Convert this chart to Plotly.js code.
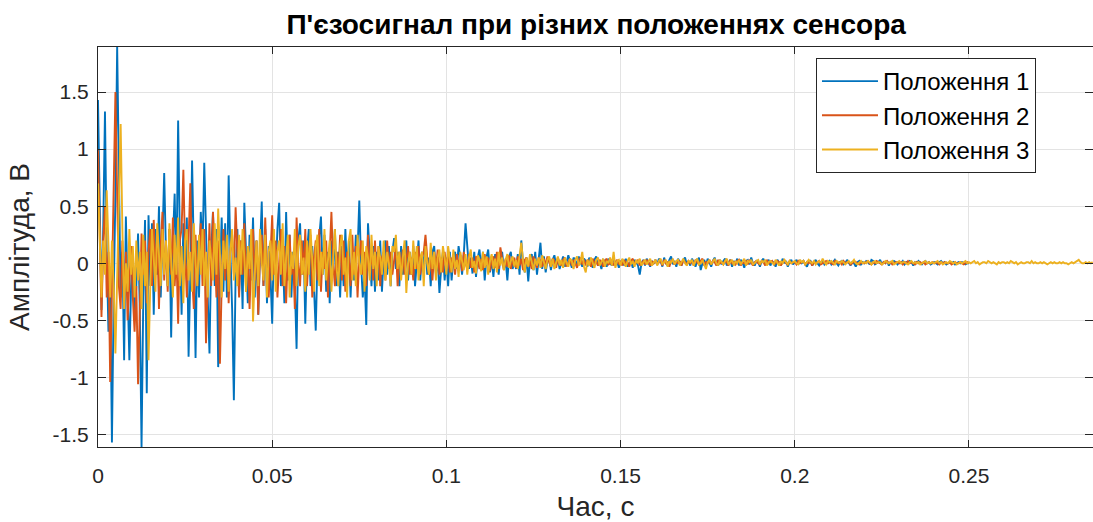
<!DOCTYPE html>
<html>
<head>
<meta charset="utf-8">
<script src="https://cdn.plot.ly/plotly-3.0.1.min.js"></script>
<style>
  html, body { margin: 0; padding: 0; background: #fff; }
  #chart { width: 1093px; height: 522px; }
</style>
</head>
<body>
<div id="chart"></div>
<script>
// Sampling step of the recorded piezo signals, s
const dt = 0.0005;

// Sensor position 1 (amplitude, V)
const position1 = [
  1.43,0.4,-0.41,0.3,1.33,0.1,-0.6,-0.2,-1.57,-0.3,0.6,1.9,0.9,-0.3,0.1,-0.85,0.41,-0.3,-0.85,-0.2,
  0.1,-0.5,-0.2,0.26,-0.4,-1.61,-0.3,0.38,-1.14,0.42,-0.2,0.35,-0.45,0.3,-0.1,0.5,-0.3,0.2,0.79,0.1,
  -0.2,0.3,-0.65,0.2,0.61,-0.1,1.25,0.2,-0.45,0.35,-0.1,0.4,-0.82,-0.1,0.9,0.1,-0.83,0.2,-0.3,0.45,
  0.1,0.88,0.2,-0.3,-0.79,0.1,0.45,-0.2,0.3,-0.91,-0.1,0.4,-0.25,0.35,-0.3,0.77,0.1,-0.4,-1.2,-0.1,
  0.3,-0.25,0.2,-0.4,0.53,0.1,-0.35,0.25,-0.15,0.4,-0.3,0.2,-0.45,0.1,0.54,-0.2,0.3,-0.35,0.15,-0.1,
  -0.53,0.2,-0.1,0.3,0.53,-0.2,0.1,-0.35,0.45,-0.15,0.25,-0.3,0.1,-0.2,-0.75,0.2,0.35,-0.1,0.2,-0.53,
  0.1,0.3,-0.2,0.15,-0.3,-0.59,0.05,0.2,0.41,-0.1,0.25,-0.25,0.1,-0.35,0.2,-0.1,0.3,-0.2,0.1,-0.3,
  0.15,-0.2,0.3,-0.1,0.2,-0.3,0.1,-0.15,0.25,0.1,0.55,0.0,-0.3,-0.1,-0.54,0.35,0.1,-0.2,0.15,-0.25,
  0.1,-0.15,0.2,-0.25,0.05,0.2,-0.1,0.15,-0.2,0.1,0.22,-0.05,0.1,-0.2,0.15,-0.1,0.05,0.2,-0.15,0.1,
  -0.1,0.15,-0.2,0.05,0.2,-0.15,0.1,-0.05,0.18,-0.1,0.05,-0.2,0.1,0.15,-0.1,0.05,-0.26,-0.05,0.1,-0.15,
  0.05,-0.2,0.1,-0.15,0.05,0.1,-0.05,0.15,0.05,-0.1,0.08,0.35,0.1,-0.05,0.05,-0.09,0.1,-0.12,0.05,0.12,
  -0.05,0.1,-0.15,0.05,0.12,-0.08,0.03,-0.12,0.08,0.02,-0.1,0.05,0.1,-0.05,0.03,-0.15,0.06,0.1,-0.05,0.02,
  -0.05,0.08,-0.1,0.2,0.0,-0.08,0.05,-0.16,0.04,0.08,-0.06,0.1,-0.1,0.03,0.18,-0.05,0.06,-0.08,0.02,0.05,
  -0.06,0.03,0.07,-0.02,0.04,-0.05,0.02,0.06,-0.03,0.01,0.07,0.02,-0.04,0.05,0.03,-0.02,0.06,0.01,-0.03,0.04,
  0.02,-0.03,0.05,0.01,-0.04,0.03,0.06,-0.02,0.01,-0.05,0.03,0.02,-0.03,0.04,0.0,-0.02,0.05,-0.01,0.02,-0.04,
  0.01,0.03,-0.02,0.04,-0.03,0.0,0.02,-0.04,0.03,0.01,-0.02,-0.1,0.0,0.03,-0.02,0.04,0.01,-0.03,0.02,0.0,
  0.03,-0.01,0.04,0.02,-0.03,0.05,0.0,-0.02,0.03,0.06,-0.01,0.02,-0.03,0.04,0.01,-0.02,0.03,0.05,-0.01,0.02,
  -0.02,0.04,0.01,-0.03,0.02,0.05,-0.06,0.0,0.03,-0.02,0.04,0.01,-0.03,0.02,0.05,0.0,-0.02,0.03,-0.01,0.02,
  0.04,-0.02,0.01,0.03,-0.03,0.02,0.0,0.04,-0.02,0.03,0.01,-0.04,0.02,0.03,-0.01,0.05,0.0,-0.02,0.02,0.01,
  -0.03,0.02,0.04,-0.01,0.01,0.03,-0.02,0.02,0.0,-0.03,0.03,0.01,-0.02,0.04,0.0,0.02,-0.03,0.01,0.03,-0.01,
  0.01,0.03,-0.01,0.02,0.0,0.02,-0.01,-0.03,0.01,0.02,-0.02,0.01,0.03,0.0,-0.02,0.01,0.02,-0.01,0.01,0.0,
  0.02,-0.01,0.01,0.03,0.0,-0.02,0.01,0.02,-0.01,0.0,0.03,0.01,-0.02,0.01,0.0,-0.03,0.01,0.02,-0.01,0.01,
  0.0,0.02,0.01,-0.01,0.03,0.02,-0.01,0.0,0.01,0.03,-0.01,0.01,0.0,0.02,-0.02,0.01,0.0,0.02,0.01,-0.01,
  0.01,0.0,0.02,-0.01,0.01,0.0,0.02,0.01,-0.02,0.01,0.0,0.02,0.0,-0.01,0.01,0.02,0.0,0.01,-0.01,0.0,
  0.01,0.0,-0.01,0.01,0.02,0.0,0.01,-0.01,0.0,0.01,0.0,0.01,-0.01,0.0,0.01,0.0,0.01,0.0,-0.01,0.0,
  0.0
];

// Sensor position 2 (amplitude, V)
const position2 = [
  0.99,0.3,-0.47,0.2,0.5,-0.3,0.1,-1.04,-0.2,0.4,1.5,0.6,-0.2,-0.4,0.2,-0.3,0.1,-0.5,-0.2,0.15,
  -0.3,-0.6,-0.2,-1.06,-0.4,0.26,-0.1,0.2,-0.35,0.1,0.3,-0.2,0.38,-0.1,0.25,-0.4,0.15,0.45,-0.15,0.2,
  -0.25,0.3,-0.1,0.4,-0.2,0.1,-0.53,0.2,0.3,0.82,0.1,-0.3,0.2,0.7,-0.1,-0.4,0.25,-0.2,0.1,0.35,
  -0.2,0.3,-0.7,-0.1,0.35,-0.2,0.45,0.1,-0.3,0.2,-0.88,-0.2,0.3,-0.15,0.2,-0.35,0.1,0.25,-0.1,0.49,
  0.1,-0.3,0.2,-0.1,0.35,-0.25,0.15,-0.4,0.05,0.3,-0.15,0.2,-0.45,0.1,0.25,-0.2,0.4,-0.05,-0.3,0.15,
  0.42,-0.1,0.2,-0.3,0.05,0.3,-0.2,0.15,-0.35,0.1,0.25,-0.1,0.05,-0.4,0.4,0.0,-0.2,0.2,-0.1,0.3,
  -0.2,0.1,0.25,-0.3,0.05,0.2,-0.15,0.3,-0.25,0.1,-0.05,0.2,-0.3,0.15,0.45,0.0,-0.2,0.1,-0.1,0.25,
  -0.15,0.2,-0.25,0.1,0.05,-0.2,0.25,-0.1,0.15,-0.3,0.05,0.2,-0.1,0.1,-0.2,0.25,-0.05,0.1,-0.15,0.2,
  -0.1,0.15,-0.2,0.05,0.1,-0.15,0.2,-0.05,0.1,-0.1,0.05,0.15,-0.2,0.1,-0.05,0.12,-0.1,0.05,0.15,-0.1,
  0.05,-0.15,0.1,-0.05,0.15,-0.1,0.05,0.1,0.25,0.05,-0.1,0.08,-0.15,0.1,-0.05,0.12,-0.1,0.05,-0.08,0.1,
  -0.05,0.1,-0.08,0.05,0.02,-0.1,0.08,-0.03,0.06,-0.07,0.1,0.0,-0.05,0.08,-0.04,0.05,-0.08,0.06,0.02,-0.05,
  0.04,-0.06,0.08,-0.02,0.05,-0.07,0.03,0.06,-0.04,0.1,-0.05,0.14,0.02,-0.06,0.04,-0.03,0.07,-0.05,0.02,0.05,
  -0.04,0.06,-0.02,0.04,-0.06,0.03,0.05,-0.03,0.02,-0.05,0.06,0.0,-0.04,0.05,0.02,-0.03,0.04,-0.02,0.06,0.01,
  -0.03,0.04,0.02,-0.04,0.05,0.0,-0.02,0.03,0.05,-0.03,0.01,0.04,-0.02,0.03,0.0,-0.04,0.02,0.05,-0.01,0.03,
  -0.02,0.03,0.01,-0.03,0.04,0.0,0.02,-0.02,0.03,0.01,-0.03,0.02,0.04,-0.01,0.0,0.03,-0.02,0.01,0.03,-0.01,
  0.02,-0.02,0.03,0.0,0.01,-0.03,0.02,0.04,-0.01,0.01,0.03,-0.02,0.0,0.02,-0.01,0.03,0.01,-0.02,0.02,0.0,
  0.03,-0.01,0.01,0.02,-0.02,0.03,0.0,0.01,-0.03,0.02,0.03,-0.01,0.01,0.0,0.02,-0.02,0.03,0.01,-0.01,0.02,
  0.0,0.02,-0.02,0.03,0.01,-0.01,0.02,0.04,-0.02,0.01,0.0,0.03,-0.01,0.02,0.01,-0.02,0.03,0.0,0.01,-0.01,
  0.02,0.01,-0.02,0.03,0.0,0.01,-0.01,0.02,0.03,-0.02,0.01,0.0,0.02,-0.01,0.03,0.01,-0.02,0.01,0.02,0.0,
  -0.01,0.02,0.01,-0.02,0.03,0.0,0.01,0.02,-0.01,0.0,0.02,0.01,-0.02,0.01,0.03,0.0,-0.01,0.02,0.0,0.01,
  0.01,-0.01,0.02,0.0,0.01,0.02,-0.01,0.01,0.0,0.02,-0.02,0.01,0.0,0.01,0.02,-0.01,0.0,0.01,0.02,0.0,
  0.01,0.0,-0.01,0.02,0.01,0.0,0.01,-0.01,0.02,0.0,0.01,0.01,-0.01,0.0,0.02,0.01,0.0,-0.01,0.01,0.0,
  0.0,0.01,0.02,0.0,-0.01,0.01,0.0,0.02,0.01,0.0,-0.01,0.01,0.0,0.02,0.0,0.01,-0.01,0.0,0.01,0.01,
  0.0,0.01,-0.01,0.01,0.0,0.02,0.0,0.01,0.0,-0.01,0.01,0.0,0.01,0.0,0.01,-0.01,0.0,0.01,0.0,0.01,
  0.0,0.01,0.0,-0.01,0.01,0.0,0.01,0.0,0.0,0.01,-0.01,0.0,0.01,0.0,0.0,0.01,0.0,-0.01,0.0,0.01,
  0.0
];

// Sensor position 3 (amplitude, V)
const position3 = [
  0.7,0.1,-0.3,0.2,-0.1,0.64,0.1,-0.3,0.2,-0.2,-0.79,-0.1,0.4,1.22,0.3,-0.4,0.0,-0.25,0.3,-0.1,
  0.15,-0.3,0.2,-0.15,0.1,-0.4,0.25,-0.2,0.1,-0.85,-0.2,0.3,0.05,-0.25,0.35,0.1,-0.2,0.3,-0.1,0.2,
  -0.2,0.35,0.05,-0.3,0.25,-0.1,0.4,-0.2,0.15,-0.35,0.2,0.3,-0.15,0.1,-0.25,0.35,0.0,-0.2,0.25,-0.1,
  0.3,-0.2,0.1,-0.3,0.2,0.05,-0.15,0.35,-0.1,0.48,0.0,-0.3,0.2,-0.05,0.25,-0.25,0.1,0.3,-0.15,0.05,
  -0.2,0.25,-0.1,0.3,0.05,-0.25,0.15,-0.05,0.3,-0.51,-0.1,0.2,-0.2,0.3,0.0,-0.15,0.25,-0.3,0.1,0.2,
  -0.15,0.3,-0.25,0.1,0.2,-0.1,0.35,-0.2,0.05,0.25,-0.3,0.1,-0.05,0.3,-0.2,0.15,0.25,-0.1,0.05,-0.25,
  0.2,-0.1,0.3,0.0,-0.25,0.15,0.25,-0.2,0.1,-0.1,0.3,-0.15,0.05,0.2,-0.25,0.1,0.3,-0.05,-0.2,0.15,
  0.25,-0.1,0.05,-0.3,0.2,0.3,-0.15,0.1,-0.2,0.25,0.0,-0.1,0.2,-0.25,0.15,0.05,-0.15,0.25,-0.05,0.1,
  -0.2,0.15,0.05,-0.1,0.2,-0.15,0.1,0.0,-0.2,0.15,0.1,0.25,-0.05,0.1,-0.15,0.05,0.2,-0.26,0.0,0.1,
  -0.1,0.2,-0.05,0.15,-0.15,0.05,0.1,-0.2,0.15,0.0,-0.1,0.18,-0.05,0.1,-0.15,0.05,0.12,-0.08,0.15,0.05,
  -0.1,0.15,0.05,-0.08,0.12,-0.05,0.03,-0.12,0.1,0.0,-0.06,0.08,-0.1,0.05,0.12,-0.04,0.02,-0.09,0.07,0.03,
  -0.07,0.1,-0.04,0.06,-0.1,0.02,0.08,-0.05,0.04,-0.08,0.1,-0.02,0.05,-0.06,0.03,0.08,-0.04,0.02,0.06,-0.03,
  0.03,-0.05,0.06,0.18,0.02,-0.08,0.05,-0.03,0.08,0.0,-0.06,0.04,-0.02,0.05,-0.04,0.07,0.0,-0.05,0.03,0.06,
  -0.03,0.04,-0.05,0.02,0.06,-0.02,0.03,-0.04,0.05,0.0,-0.03,0.04,0.02,-0.05,0.03,0.06,-0.02,0.01,0.1,-0.03,
  -0.08,0.03,-0.02,0.05,0.0,-0.04,0.03,0.05,-0.02,0.01,0.04,-0.03,0.02,0.0,0.05,-0.02,0.1,-0.04,0.02,0.03,
  -0.02,0.04,0.01,-0.03,0.02,0.05,-0.01,0.02,-0.03,0.03,0.0,0.04,-0.02,0.01,0.03,-0.01,0.02,0.04,-0.02,0.01,
  0.03,-0.02,0.02,0.04,-0.01,0.01,0.03,-0.03,0.02,0.0,0.04,-0.01,0.02,0.03,-0.02,0.01,0.04,0.0,-0.02,0.02,
  0.01,0.03,-0.02,0.02,0.04,-0.01,0.0,0.03,-0.02,-0.05,0.01,0.03,-0.01,0.02,0.04,0.0,-0.02,0.03,0.01,-0.01,
  0.02,0.04,-0.01,0.01,0.03,-0.02,0.02,0.0,0.03,-0.01,0.01,0.04,-0.02,0.02,0.01,0.03,-0.01,0.0,0.02,0.03,
  -0.01,0.02,0.01,0.03,-0.02,0.01,0.02,0.0,-0.01,0.03,0.01,-0.02,0.02,0.0,0.03,0.01,-0.01,0.02,0.0,0.01,
  0.02,0.0,-0.01,0.03,0.01,0.02,-0.01,0.01,0.03,0.01,0.0,0.02,-0.01,0.01,0.02,0.0,0.04,0.01,-0.01,0.02,
  0.01,0.02,0.0,-0.01,0.02,0.01,0.0,0.02,0.01,-0.01,0.01,0.02,0.0,0.01,0.03,0.0,-0.01,0.01,0.02,0.0,
  0.01,0.0,0.02,0.01,-0.01,0.01,0.02,0.0,0.01,0.01,-0.01,0.0,0.02,0.01,0.0,0.01,0.02,-0.01,0.0,0.01,
  0.02,0.0,0.01,0.01,0.0,-0.01,0.01,0.02,0.0,0.01,0.0,0.01,-0.01,0.0,0.01,0.02,0.0,0.01,0.0,0.01,
  0.0,0.01,0.02,0.0,0.01,-0.01,0.0,0.01,0.0,0.02,0.01,0.0,0.01,-0.01,0.0,0.01,0.0,0.01,0.02,0.0,
  0.01,0.0,0.01,0.02,0.0,0.01,-0.01,0.0,0.01,0.01,0.0,0.02,0.01,0.0,0.01,0.0,-0.01,0.01,0.0,0.01,
  0.01,0.0,0.01,0.0,0.02,0.01,0.0,0.01,-0.01,0.0,0.01,0.0,0.0,0.01,0.01,0.0,0.02,0.0,0.01,0.0,
  0.0,0.01,0.0,0.01,0.0,-0.01,0.0,0.01,0.0,0.01,0.0,0.0,0.01,0.0,0.01,0.0,0.0,-0.01,0.0,0.01,
  0.0,0.01,0.02,0.03,0.01,0.0,0.0,0.01,0.0,0.01,0.0,0.01
];

const seriesNames = ['Положення 1', 'Положення 2', 'Положення 3'];
const seriesColors = ['#0072BD', '#D95319', '#EDB120'];

const xTickVals = [0, 0.05, 0.1, 0.15, 0.2, 0.25];
const xTickText = ['0', '0.05', '0.1', '0.15', '0.2', '0.25'];
const yTickVals = [-1.5, -1, -0.5, 0, 0.5, 1, 1.5];
const yTickText = ['-1.5', '-1', '-0.5', '0', '0.5', '1', '1.5'];

const timeAxis = n => Array.from({length: n}, (_, i) => +(i * dt).toFixed(4));

const traces = [position1, position2, position3].map((ys, k) => ({
  type: 'scatter',
  mode: 'lines',
  name: seriesNames[k],
  x: timeAxis(ys.length),
  y: ys,
  line: {color: seriesColors[k], width: 1.9},
  hoverinfo: 'skip'
}));

const axisColor = '#262626';
const gridColor = '#e3e3e3';
const font = 'Liberation Sans, Arial, Helvetica, sans-serif';

const layout = {
  width: 1093,
  height: 522,
  margin: {l: 98, r: 0, t: 47, b: 75},
  paper_bgcolor: '#ffffff',
  plot_bgcolor: '#ffffff',
  font: {family: font, color: axisColor},
  title: {
    text: '<b>П\'єзосигнал при різних положеннях сенсора</b>',
    font: {family: font, size: 28, color: '#000'},
    x: 0.5454, xanchor: 'center',
    y: 0.953, yanchor: 'middle'
  },
  xaxis: {
    range: [0, 0.2856],
    tickvals: xTickVals,
    ticktext: xTickText,
    ticks: 'inside',
    ticklen: 7,
    tickcolor: axisColor,
    showline: true,
    linecolor: axisColor,
    linewidth: 1,
    mirror: 'ticks',
    showgrid: true,
    gridcolor: gridColor,
    zeroline: false,
    ticklabelstandoff: 10,
    tickfont: {size: 21, color: axisColor},
    title: {text: 'Час, с', font: {size: 28, color: axisColor}, standoff: 22}
  },
  yaxis: {
    range: [-1.61, 1.895],
    tickvals: yTickVals,
    ticktext: yTickText,
    ticks: 'inside',
    ticklen: 8,
    tickcolor: axisColor,
    showline: true,
    linecolor: axisColor,
    linewidth: 1,
    mirror: 'ticks',
    showgrid: true,
    gridcolor: gridColor,
    zeroline: false,
    ticklabelstandoff: 4,
    tickfont: {size: 21, color: axisColor},
    title: {text: 'Амплітуда, В', font: {size: 28, color: axisColor}, standoff: 14}
  },
  showlegend: true,
  legend: {
    x: 0.7216, y: 0.9725,
    xanchor: 'left', yanchor: 'top',
    bgcolor: '#ffffff',
    bordercolor: axisColor,
    borderwidth: 1,
    font: {family: font, size: 24, color: '#000'},
    itemwidth: 56
  }
};

Plotly.newPlot('chart', traces, layout, {displayModeBar: false, staticPlot: true});
</script>
</body>
</html>
